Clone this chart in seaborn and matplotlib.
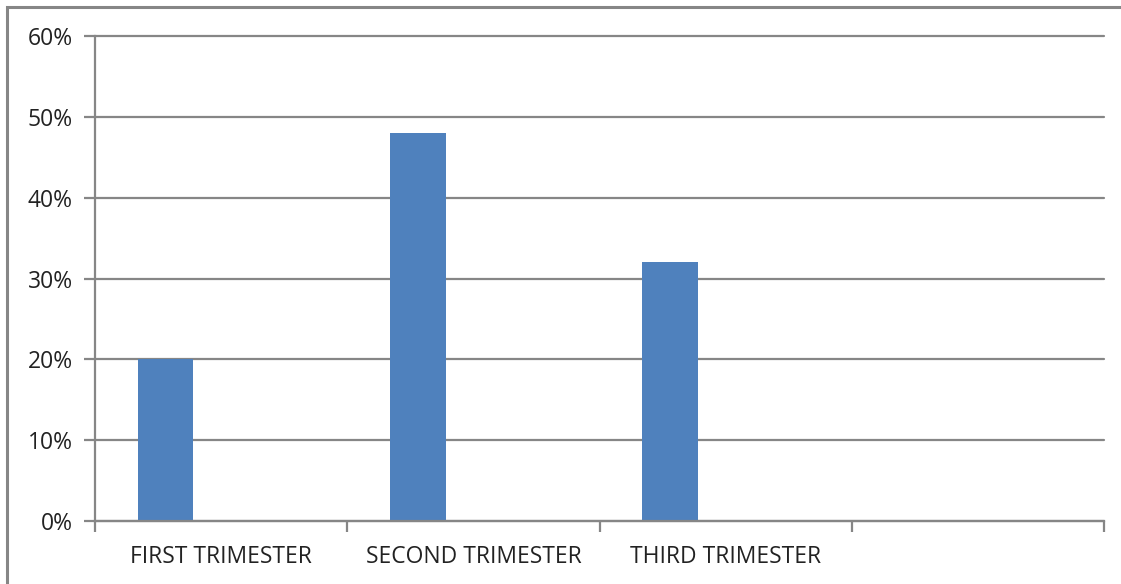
import matplotlib.pyplot as plt
import pandas as pd
import seaborn as sns
from matplotlib.patches import Rectangle
from matplotlib.ticker import FixedLocator, PercentFormatter

categories = ["FIRST TRIMESTER", "SECOND TRIMESTER", "THIRD TRIMESTER", ""]
series_names = ["Series1", "Series2", "Series3"]
series1 = [20, 48, 32, None]
y_ticks = [0, 10, 20, 30, 40, 50, 60]

GRAY = "#868686"
BLUE = "#4F81BD"

sns.set_theme(style="white")
plt.rcParams["font.family"] = ["Open Sans", "DejaVu Sans"]

rows = []
for cat, v in zip(categories, series1):
    rows.append({"cat": cat, "series": series_names[0], "value": v})
    for s in series_names[1:]:
        rows.append({"cat": cat, "series": s, "value": None})
df = pd.DataFrame(rows)

W, H = 1121, 584
fig = plt.figure(figsize=(W / 100, H / 100), dpi=100)
ax = fig.add_axes([95 / W, (H - 521) / H, (1104 - 95) / W, (521 - 36) / H])

sns.barplot(data=df, x="cat", y="value", hue="series", order=categories,
            hue_order=series_names, palette=[BLUE, BLUE, BLUE], width=0.66,
            errorbar=None, legend=False, saturation=1, linewidth=0, ax=ax)

ax.set_xlim(-0.5, len(categories) - 0.5)
ax.set_ylim(0, 60)
ax.set_yticks(y_ticks)
ax.yaxis.set_major_formatter(PercentFormatter(decimals=0))
ax.yaxis.grid(True, color=GRAY, lw=1.6)
for gl in ax.get_ygridlines():
    gl.set_clip_on(False)
ax.set_axisbelow(True)
ax.set_xlabel("")
ax.set_ylabel("")

for side in ["top", "right"]:
    ax.spines[side].set_visible(False)
for side in ["left", "bottom"]:
    ax.spines[side].set_color(GRAY)
    ax.spines[side].set_linewidth(1.6)

# category labels in the middle, tick marks on the boundaries
ax.xaxis.set_minor_locator(FixedLocator([i - 0.5 for i in range(len(categories) + 1)]))
ax.tick_params(axis="x", which="major", length=0, pad=17, labelsize=16.5, colors="#222222")
ax.tick_params(axis="x", which="minor", length=8, width=1.6, color=GRAY, bottom=True)
ax.tick_params(axis="y", length=8, width=1.6, color=GRAY, left=True, labelsize=16.5,
               labelcolor="#222222", pad=8)

# outer chart border (cropped at right and bottom)
fig.patches.append(Rectangle((7 / W, -0.1), 1.2, (H - 7) / H + 0.1, transform=fig.transFigure,
                             fill=False, edgecolor=GRAY, lw=2.2))

fig.savefig("out.png", dpi=100)
